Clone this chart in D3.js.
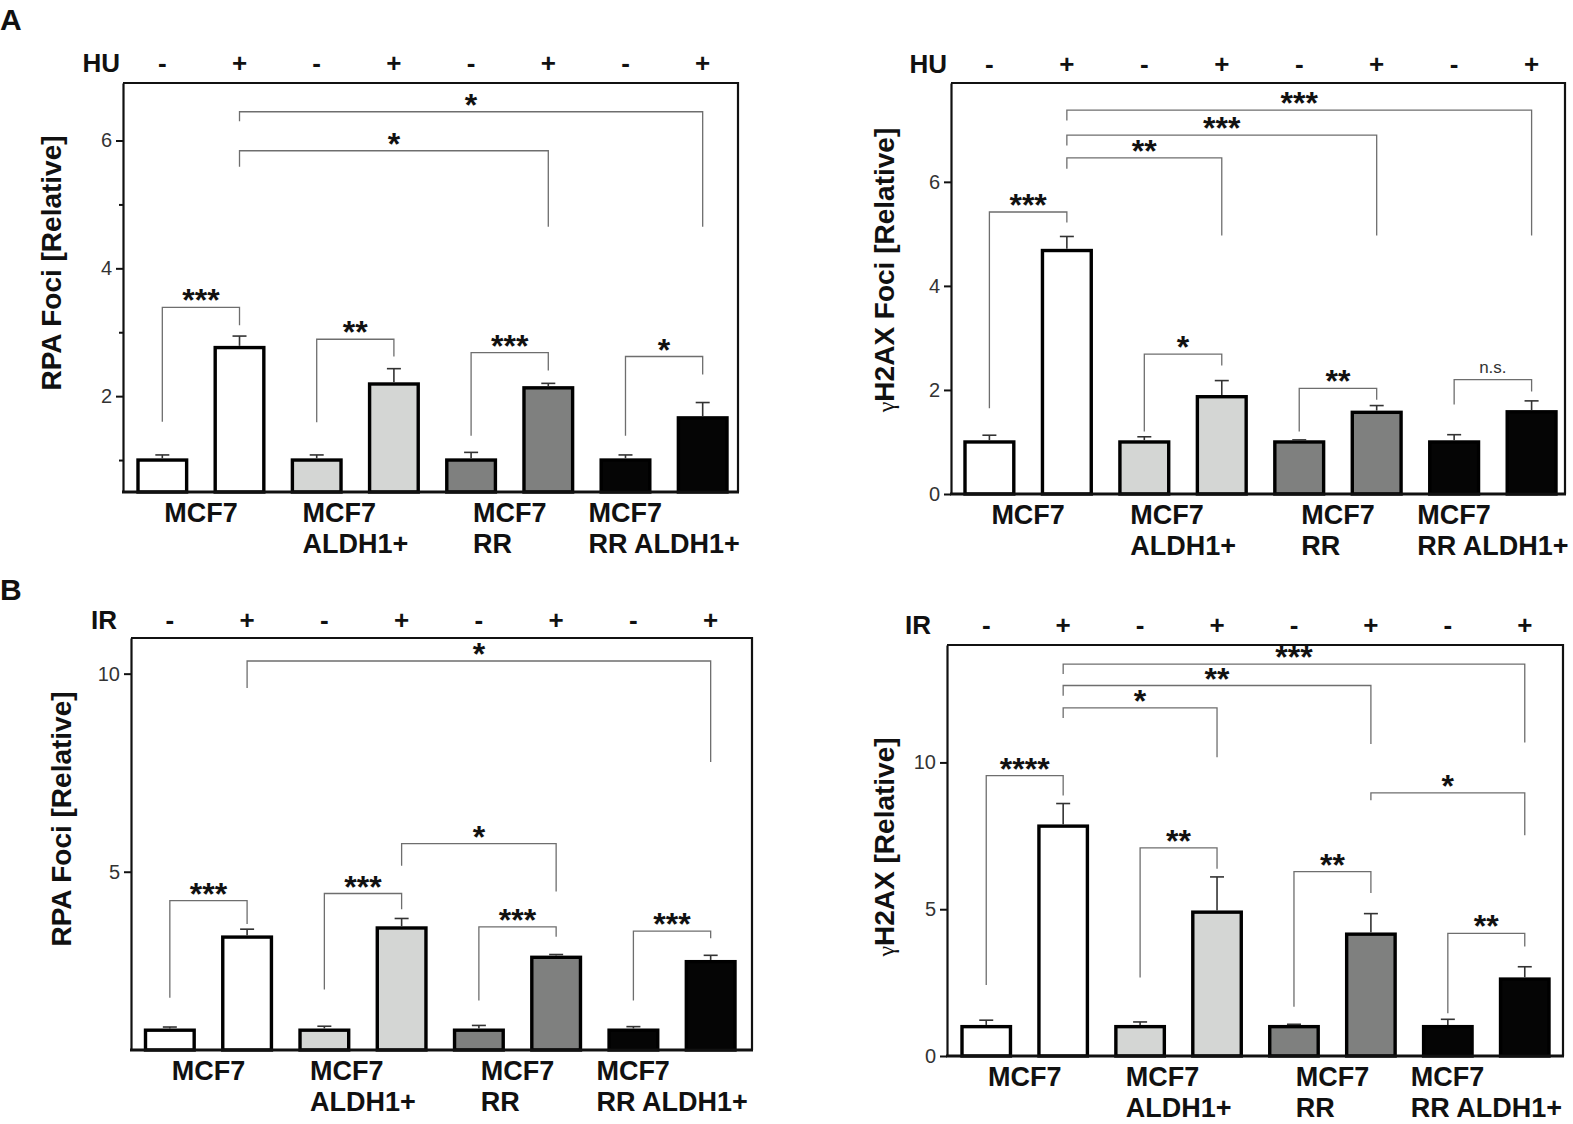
<!DOCTYPE html>
<html>
<head>
<meta charset="utf-8">
<script src="https://cdn.jsdelivr.net/npm/d3@7"></script>
<style>
  body { margin: 0; background: #fff; }
  svg text { font-family: "Liberation Sans", Arial, Helvetica, sans-serif; }
</style>
</head>
<body>
<svg id="fig" width="1573" height="1124"></svg>
<script>
// ---- shared categories ----
var cellLines = ["MCF7", "MCF7|ALDH1+", "MCF7|RR", "MCF7|RR ALDH1+"];
var lineFills = ["#ffffff", "#d4d6d4", "#7f807f", "#050505"];
var treatSigns = ["-", "+", "-", "+", "-", "+", "-", "+"];

// ---- A left: HU, RPA foci ----
var huRpaMean = [1.0, 2.76, 1.0, 2.19, 1.0, 2.13, 1.0, 1.66];
var huRpaErr  = [0.08, 0.18, 0.08, 0.24, 0.12, 0.07, 0.08, 0.24];
// [from bar, to bar, bracket top, left leg end, right leg end, label]
var huRpaSig = [
  [0, 1, 3.39, 1.60, 3.11, "***"],
  [2, 3, 2.89, 1.59, 2.62, "**"],
  [4, 5, 2.68, 1.38, 2.40, "***"],
  [6, 7, 2.62, 1.38, 2.34, "*"],
  [1, 5, 5.84, 5.59, 4.65, "*"],
  [1, 7, 6.45, 6.30, 4.65, "*"]
];

// ---- A right: HU, gH2AX foci ----
var huH2axMean = [1.0, 4.68, 1.0, 1.87, 1.0, 1.57, 1.0, 1.58];
var huH2axErr  = [0.13, 0.27, 0.10, 0.31, 0.04, 0.13, 0.14, 0.21];
var huH2axSig = [
  [0, 1, 5.42, 1.65, 5.22, "***"],
  [2, 3, 2.69, 1.20, 2.47, "*"],
  [4, 5, 2.03, 1.20, 1.81, "**"],
  [6, 7, 2.20, 1.72, 1.97, "n.s."],
  [1, 3, 6.46, 6.25, 4.97, "**"],
  [1, 5, 6.90, 6.70, 4.97, "***"],
  [1, 7, 7.38, 7.18, 4.97, "***"]
];

// ---- B left: IR, RPA foci ----
var irRpaMean = [1.0, 3.35, 1.0, 3.58, 1.0, 2.84, 1.0, 2.73];
var irRpaErr  = [0.08, 0.20, 0.10, 0.24, 0.12, 0.07, 0.09, 0.16];
var irRpaSig = [
  [0, 1, 4.27, 1.82, 3.68, "***"],
  [2, 3, 4.45, 2.03, 4.05, "***"],
  [4, 5, 3.61, 1.75, 3.36, "***"],
  [6, 7, 3.50, 1.75, 3.32, "***"],
  [3, 5, 5.71, 5.15, 4.50, "*"],
  [1, 7, 10.32, 9.64, 7.77, "*"]
];

// ---- B right: IR, gH2AX ----
var irH2axMean = [1.0, 7.83, 1.0, 4.90, 1.0, 4.15, 1.0, 2.62];
var irH2axErr  = [0.22, 0.77, 0.16, 1.20, 0.08, 0.70, 0.25, 0.42];
var irH2axSig = [
  [0, 1, 9.55, 2.42, 8.87, "****"],
  [2, 3, 7.09, 2.67, 6.38, "**"],
  [4, 5, 6.28, 1.68, 5.55, "**"],
  [6, 7, 4.18, 1.46, 3.73, "**"],
  [5, 7, 8.96, 8.71, 7.52, "*"],
  [1, 3, 11.86, 11.51, 10.18, "*"],
  [1, 5, 12.62, 12.27, 10.63, "**"],
  [1, 7, 13.35, 13.01, 10.68, "***"]
];

var svg = d3.select("#fig");

var panels = [
  { treat: "HU", mean: huRpaMean, err: huRpaErr, sig: huRpaSig,
    box: {left: 123, right: 738, top: 83, bottom: 492}, bars: [138, 727],
    domain: [0.5, 6.9], ticks: [2, 4, 6], minor: [1, 3, 5],
    treatX: 120, signY: 72, title: ["", "RPA Foci [Relative]"], titleX: 51, titleY: 263 },
  { treat: "HU", mean: huH2axMean, err: huH2axErr, sig: huH2axSig,
    box: {left: 951, right: 1565, top: 83, bottom: 494}, bars: [965, 1556],
    domain: [0, 7.9], ticks: [0, 2, 4, 6], minor: [],
    treatX: 947, signY: 73, title: ["γ", "H2AX Foci [Relative]"], titleX: 884, titleY: 270 },
  { treat: "IR", mean: irRpaMean, err: irRpaErr, sig: irRpaSig,
    box: {left: 131, right: 752, top: 638, bottom: 1050}, bars: [145.5, 735],
    domain: [0.5, 10.9], ticks: [5, 10], minor: [],
    treatX: 117, signY: 629, title: ["", "RPA Foci [Relative]"], titleX: 61, titleY: 819 },
  { treat: "IR", mean: irH2axMean, err: irH2axErr, sig: irH2axSig,
    box: {left: 947, right: 1563, top: 645, bottom: 1056}, bars: [962, 1549],
    domain: [0, 14], ticks: [0, 5, 10], minor: [],
    treatX: 931, signY: 634, title: ["γ", "H2AX [Relative]"], titleX: 884, titleY: 847 }
];

function drawPanel(p) {
  var g = svg.append("g");
  var b = p.box;
  var x = d3.scaleBand().domain(d3.range(8)).range(p.bars).paddingInner(0.37).paddingOuter(0);
  var y = d3.scaleLinear().domain(p.domain).range([b.bottom, b.top]);
  var cx = function (i) { return x(i) + x.bandwidth() / 2; };

  // frame on top and right
  g.append("path")
    .attr("d", "M" + b.left + "," + b.top + "H" + b.right + "V" + b.bottom)
    .attr("fill", "none").attr("stroke", "#111").attr("stroke-width", 2.2);

  // y axis
  var ay = g.append("g").attr("transform", "translate(" + b.left + ",0)")
    .call(d3.axisLeft(y).tickValues(p.ticks).tickSize(7).tickSizeOuter(0)
      .tickPadding(4).tickFormat(d3.format("d")));
  ay.select(".domain").attr("stroke", "#111").attr("stroke-width", 2.2);
  ay.selectAll(".tick line").attr("stroke", "#111").attr("stroke-width", 2);
  ay.selectAll(".tick text").attr("font-size", 20).attr("fill", "#333")
    .attr("font-family", "Liberation Sans, Arial, sans-serif");
  if (p.minor.length) {
    var am = g.append("g").attr("transform", "translate(" + b.left + ",0)")
      .call(d3.axisLeft(y).tickValues(p.minor).tickSize(4).tickSizeOuter(0).tickFormat(""));
    am.select(".domain").remove();
    am.selectAll(".tick line").attr("stroke", "#111").attr("stroke-width", 2);
  }

  // bars
  g.selectAll("rect.bar").data(p.mean).enter().append("rect")
    .attr("class", "bar")
    .attr("x", function (d, i) { return x(i); })
    .attr("y", function (d) { return y(d); })
    .attr("width", x.bandwidth())
    .attr("height", function (d) { return y(p.domain[0]) - y(d); })
    .attr("fill", function (d, i) { return lineFills[Math.floor(i / 2)]; })
    .attr("stroke", "#000").attr("stroke-width", 3.4);

  // error bars (upper only)
  var eb = g.selectAll("g.err").data(p.mean).enter().append("g").attr("class", "err")
    .attr("stroke", "#333").attr("stroke-width", 1.6);
  eb.append("line")
    .attr("x1", function (d, i) { return cx(i); }).attr("x2", function (d, i) { return cx(i); })
    .attr("y1", function (d) { return y(d) - 1.7; })
    .attr("y2", function (d, i) { return y(d + p.err[i]); });
  eb.append("line")
    .attr("x1", function (d, i) { return cx(i) - 7; }).attr("x2", function (d, i) { return cx(i) + 7; })
    .attr("y1", function (d, i) { return y(d + p.err[i]); })
    .attr("y2", function (d, i) { return y(d + p.err[i]); });

  // bottom axis line
  g.append("line").attr("x1", b.left - 1).attr("x2", b.right + 1)
    .attr("y1", b.bottom).attr("y2", b.bottom)
    .attr("stroke", "#111").attr("stroke-width", 3);

  // significance brackets
  g.selectAll("path.sig").data(p.sig).enter().append("path")
    .attr("class", "sig")
    .attr("d", function (s) {
      return "M" + cx(s[0]) + "," + y(s[3]) + "V" + y(s[2]) + "H" + cx(s[1]) + "V" + y(s[4]);
    })
    .attr("fill", "none").attr("stroke", "#6e6e6e").attr("stroke-width", 1.3);
  g.selectAll("text.sig").data(p.sig).enter().append("text")
    .attr("class", "sig")
    .attr("x", function (s) { return (cx(s[0]) + cx(s[1])) / 2; })
    .attr("y", function (s) { return s[5] === "n.s." ? y(s[2]) - 7 : y(s[2]) + 4; })
    .attr("text-anchor", "middle")
    .attr("font-size", function (s) { return s[5] === "n.s." ? 17 : 32; })
    .attr("font-weight", function (s) { return s[5] === "n.s." ? "normal" : "bold"; })
    .attr("fill", function (s) { return s[5] === "n.s." ? "#333" : "#111"; })
    .text(function (s) { return s[5]; });

  // treatment row
  g.append("text").attr("x", p.treatX).attr("y", p.signY)
    .attr("text-anchor", "end").attr("font-size", 26).attr("font-weight", "bold")
    .attr("fill", "#111").text(p.treat);
  g.selectAll("text.sign").data(treatSigns).enter().append("text")
    .attr("class", "sign")
    .attr("x", function (d, i) { return cx(i); })
    .attr("y", p.signY)
    .attr("text-anchor", "middle").attr("font-size", 26).attr("font-weight", "bold")
    .attr("fill", "#111").text(function (d) { return d; });

  // cell line labels: left-aligned blocks centred under each pair
  cellLines.forEach(function (name, k) {
    var mid = (cx(2 * k) + cx(2 * k + 1)) / 2;
    var t = g.append("text").attr("font-size", 27).attr("font-weight", "bold").attr("fill", "#111");
    name.split("|").forEach(function (ln, j) {
      t.append("tspan").attr("x", 0).attr("y", b.bottom + 30 + j * 31).text(ln);
    });
    var w = t.node().getBBox().width;
    t.attr("transform", "translate(" + (mid - w / 2) + ",0)");
  });

  // y title
  var tt = g.append("text")
    .attr("transform", "translate(" + p.titleX + "," + p.titleY + ") rotate(-90)")
    .attr("text-anchor", "middle").attr("dy", "0.36em")
    .attr("font-size", 28).attr("font-weight", "bold").attr("fill", "#111");
  if (p.title[0]) {
    tt.append("tspan").attr("font-weight", "normal").attr("font-size", 24)
      .attr("font-family", "Liberation Serif, serif").text(p.title[0]);
  }
  tt.append("tspan").text(p.title[1]);
}

panels.forEach(drawPanel);

svg.append("text").attr("x", 0).attr("y", 30).attr("font-size", 30)
  .attr("font-weight", "bold").attr("fill", "#111").text("A");
svg.append("text").attr("x", 0).attr("y", 600).attr("font-size", 30)
  .attr("font-weight", "bold").attr("fill", "#111").text("B");
</script>
</body>
</html>
